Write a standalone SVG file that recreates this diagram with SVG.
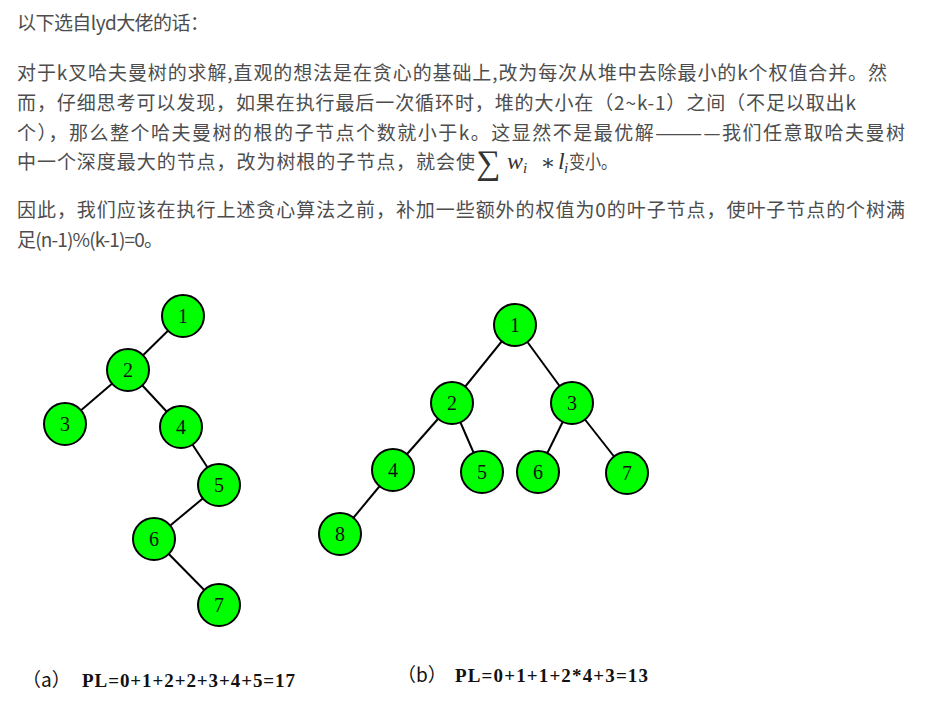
<svg xmlns="http://www.w3.org/2000/svg" width="937" height="706" viewBox="0 0 937 706">
<style>
.t{font-family:"Noto Sans CJK SC","Liberation Sans",sans-serif;font-size:19px;fill:#4d4d4d}
.m{font-family:"Liberation Serif","DejaVu Serif",serif;fill:#333}
.n circle{fill:#00ff00;stroke:#000;stroke-width:2}
.n text{font-family:"Liberation Serif","DejaVu Serif",serif;font-size:20px;fill:#111;text-anchor:middle}
.e line{stroke:#000;stroke-width:2}
.cap{font-family:"Liberation Serif","Noto Sans CJK SC",serif;font-size:19px;font-weight:bold;fill:#111}
.par{font-family:"Noto Sans CJK SC",serif;font-size:19px;fill:#111}
</style>
<rect width="937" height="706" fill="#fff"/>
<g id="text">
<text class="t" x="17" y="30" textLength="192" lengthAdjust="spacing">以下选自lyd大佬的话：</text>
<text class="t" x="17" y="80" textLength="870" lengthAdjust="spacing">对于k叉哈夫曼树的求解,直观的想法是在贪心的基础上,改为每次从堆中去除最小的k个权值合并。然</text>
<text class="t" x="17" y="110" textLength="839" lengthAdjust="spacing">而，仔细思考可以发现，如果在执行最后一次循环时，堆的大小在（2~k-1）之间（不足以取出k</text>
<text class="t" x="17" y="140" textLength="888" lengthAdjust="spacing">个），那么整个哈夫曼树的根的子节点个数就小于k。这显然不是最优解————我们任意取哈夫曼树</text>
<text class="t" x="17" y="169" textLength="458" lengthAdjust="spacing">中一个深度最大的节点，改为树根的子节点，就会使</text>
<text class="m" x="476" y="174" font-size="34">∑</text>
<text class="m" x="507" y="169" font-size="24" font-style="italic">w</text>
<text class="m" x="523" y="173" font-size="15" font-style="italic">i</text>
<text class="m" x="548" y="170" font-size="22" text-anchor="middle">∗</text>
<text class="m" x="558" y="169" font-size="24" font-style="italic">l</text>
<text class="m" x="564" y="173" font-size="15" font-style="italic">i</text>
<text class="t" x="569" y="169" textLength="48" lengthAdjust="spacingAndGlyphs">变小。</text>
<text class="t" x="17" y="217" textLength="888" lengthAdjust="spacing">因此，我们应该在执行上述贪心算法之前，补加一些额外的权值为0的叶子节点，使叶子节点的个树满</text>
<text class="t" x="17" y="247" textLength="146" lengthAdjust="spacing">足(n-1)%(k-1)=0。</text>
</g>
<g id="connectors" class="e">
<line x1="183" y1="316" x2="128" y2="370"/>
<line x1="128" y1="370" x2="65" y2="424"/>
<line x1="128" y1="370" x2="181" y2="427"/>
<line x1="181" y1="427" x2="219" y2="485"/>
<line x1="219" y1="485" x2="154" y2="539"/>
<line x1="154" y1="539" x2="219" y2="605"/>
<line x1="515" y1="325" x2="452" y2="403"/>
<line x1="515" y1="325" x2="572" y2="403"/>
<line x1="452" y1="403" x2="393" y2="470"/>
<line x1="452" y1="403" x2="482" y2="472"/>
<line x1="572" y1="403" x2="538" y2="472"/>
<line x1="572" y1="403" x2="627" y2="473"/>
<line x1="393" y1="470" x2="340" y2="534"/>
</g>
<g id="a1" class="n"><circle cx="183" cy="316" r="21"/><text x="183" y="323">1</text></g>
<g id="a2" class="n"><circle cx="128" cy="370" r="21"/><text x="128" y="377">2</text></g>
<g id="a3" class="n"><circle cx="65" cy="424" r="21"/><text x="65" y="431">3</text></g>
<g id="a4" class="n"><circle cx="181" cy="427" r="21"/><text x="181" y="434">4</text></g>
<g id="a5" class="n"><circle cx="219" cy="485" r="21"/><text x="219" y="492">5</text></g>
<g id="a6" class="n"><circle cx="154" cy="539" r="21"/><text x="154" y="546">6</text></g>
<g id="a7" class="n"><circle cx="219" cy="605" r="21"/><text x="219" y="612">7</text></g>
<g id="b1" class="n"><circle cx="515" cy="325" r="21"/><text x="515" y="332">1</text></g>
<g id="b2" class="n"><circle cx="452" cy="403" r="21"/><text x="452" y="410">2</text></g>
<g id="b3" class="n"><circle cx="572" cy="403" r="21"/><text x="572" y="410">3</text></g>
<g id="b4" class="n"><circle cx="393" cy="470" r="21"/><text x="393" y="477">4</text></g>
<g id="b5" class="n"><circle cx="482" cy="472" r="21"/><text x="482" y="479">5</text></g>
<g id="b6" class="n"><circle cx="538" cy="472" r="21"/><text x="538" y="479">6</text></g>
<g id="b7" class="n"><circle cx="627" cy="473" r="21"/><text x="627" y="480">7</text></g>
<g id="b8" class="n"><circle cx="340" cy="534" r="21"/><text x="340" y="541">8</text></g>
<g id="captions">
<text class="par" x="22" y="687">（a）</text>
<text class="cap" x="82" y="687" textLength="213" lengthAdjust="spacing">PL=0+1+2+2+3+4+5=17</text>
<text class="par" x="397" y="682">（b）</text>
<text class="cap" x="455" y="682" textLength="193" lengthAdjust="spacing">PL=0+1+1+2*4+3=13</text>
</g>
</svg>
